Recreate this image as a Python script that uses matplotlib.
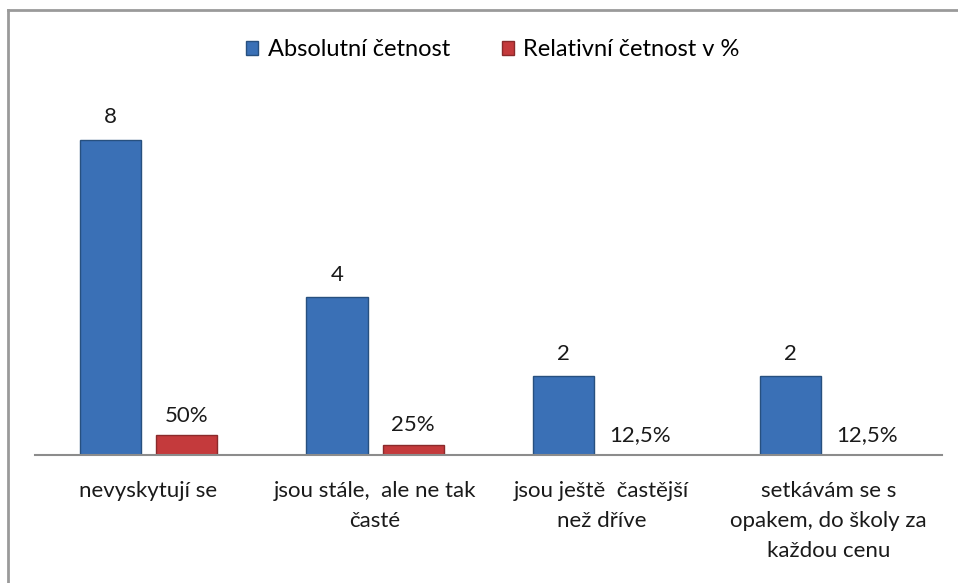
import matplotlib.pyplot as plt
import numpy as np
from matplotlib.lines import Line2D
from matplotlib.patches import Patch

categories = [
    "nevyskytují se",
    "jsou stále,  ale ne tak\nčasté",
    "jsou ještě  častější\nnež dříve",
    "setkávám se s\nopakem, do školy za\nkaždou cenu",
]
absolute = [8, 4, 2, 2]
relative_bar = [0.5, 0.25, 0.0, 0.0]
relative_labels = ["50%", "25%", "12,5%", "12,5%"]

BLUE = "#3a70b6"
BLUE_EDGE = "#27507f"
RED = "#c43a3c"
RED_EDGE = "#8a2a2b"
FONT = ["Lato", "DejaVu Sans"]
FS = 16

plt.rcParams["font.family"] = FONT

fig = plt.figure(figsize=(9.58, 5.83), dpi=100)
ax = fig.add_axes([35 / 958, 128 / 583, 907 / 958, 354.6 / 583])

x = np.arange(len(categories))
width = 0.27
off = 0.168

b1 = ax.bar(x - off, absolute, width, color=BLUE, edgecolor=BLUE_EDGE, linewidth=1)
b2 = ax.bar(x + off, relative_bar, width, color=RED, edgecolor=RED_EDGE, linewidth=1)

for rect, v in zip(b1, absolute):
    ax.annotate(str(v), (rect.get_x() + rect.get_width() / 2, rect.get_height()),
                xytext=(0, 9), textcoords="offset points", ha="center", va="bottom",
                fontsize=FS, color="#1a1a1a")
for rect, lab in zip(b2, relative_labels):
    ax.annotate(lab, (rect.get_x() + rect.get_width() / 2, rect.get_height()),
                xytext=(0, 7), textcoords="offset points", ha="center", va="bottom",
                fontsize=FS, color="#1a1a1a")

ax.set_xlim(-0.5, 3.5)
ax.set_ylim(0, 9)
ax.set_yticks([])
ax.set_xticks(x)
ax.set_xticklabels(categories, fontsize=FS, linespacing=1.6, color="#1a1a1a", va="top")
ax.tick_params(axis="x", length=0, pad=19)
for s in ["top", "right", "left"]:
    ax.spines[s].set_visible(False)
ax.spines["bottom"].set_color("#8c8c8c")
ax.spines["bottom"].set_linewidth(1.5)

handles = [Patch(facecolor=BLUE, edgecolor=BLUE_EDGE), Patch(facecolor=RED, edgecolor=RED_EDGE)]
fig.legend(handles, ["Absolutní četnost", "Relativní četnost v %"], loc="center",
           bbox_to_anchor=(493 / 958, 1 - 50 / 583), ncol=2, frameon=False, fontsize=17,
           handlelength=0.5, handleheight=0.5, handletextpad=0.4, columnspacing=2.2)

# chart area border (top and left edges)
fig.add_artist(Line2D([8 / 958, 1], [1 - 10 / 583, 1 - 10 / 583], color="#9a9a9a", lw=2,
                      transform=fig.transFigure))
fig.add_artist(Line2D([8 / 958, 8 / 958], [0, 1 - 10 / 583], color="#9a9a9a", lw=2,
                      transform=fig.transFigure))

fig.savefig("out.png", dpi=100)
